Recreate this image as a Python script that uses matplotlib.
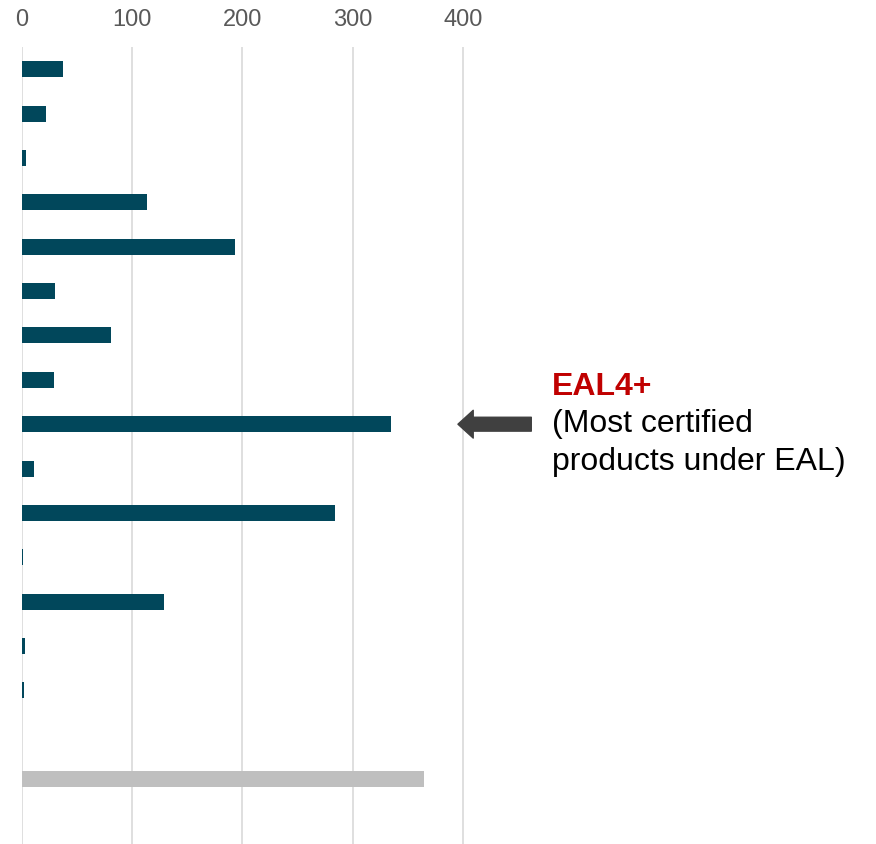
import matplotlib.pyplot as plt

plt.rcParams['font.family'] = ['Liberation Sans', 'DejaVu Sans']

# Werte (von oben nach unten), Slot 15 ist leer, letzter Balken grau
werte = [37, 22, 4, 114, 193, 30, 81, 29, 335, 11, 284, 1, 129, 3, 2]
gesamt = 365
x_ticks = [0, 100, 200, 300, 400]

fig = plt.figure(figsize=(8.76, 8.45), dpi=100)
W, H = 876, 845
x0, x1 = 21.7, 868
y_top, y_bot = 48, 845
ax = fig.add_axes([x0 / W, 1 - y_bot / H, (x1 - x0) / W, (y_bot - y_top) / H])

px_per_unit = 1.103
ax.set_xlim(0, (x1 - x0) / px_per_unit)
ax.set_ylim(17.46, -0.5)

pos = list(range(len(werte)))
ax.barh(pos, werte, height=0.36, color='#01475B', zorder=3)
ax.barh([16], [gesamt], height=0.36, color='#BFBFBF', zorder=3)

ax.set_xticks(x_ticks)
ax.xaxis.tick_top()
ax.tick_params(axis='x', length=0, pad=12, labelsize=17, labelcolor='#595959')
ax.set_yticks([])
for s in ax.spines.values():
    s.set_visible(False)
ax.grid(axis='x', color='#D9D9D9', linewidth=1.2, zorder=0)

# Pfeil und Beschriftung
ax.annotate('', xy=(395.5, 8), xytext=(462, 8),
            arrowprops=dict(arrowstyle='simple,head_width=2.0,head_length=1.1,tail_width=1.0',
                            mutation_scale=10, color='#404040', shrinkA=0, shrinkB=0))
tx = (551.7 - x0) / px_per_unit
ax.text(tx, 7.14, 'EAL4+', color='#C00000', fontsize=23, fontweight='bold', va='center', ha='left')
ax.text(tx, 7.98, '(Most certified', color='black', fontsize=23, va='center', ha='left')
ax.text(tx, 8.84, 'products under EAL)', color='black', fontsize=23, va='center', ha='left')

fig.savefig('out.png', dpi=100)
